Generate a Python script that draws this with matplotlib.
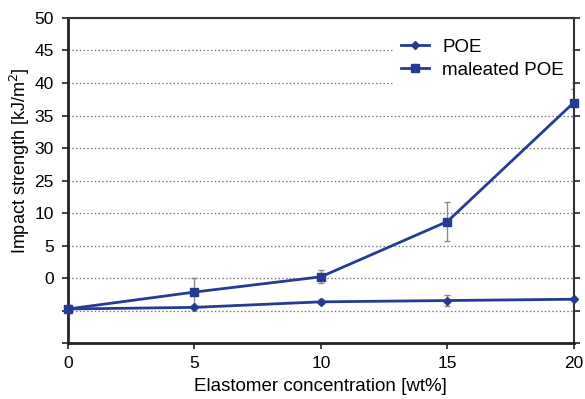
import numpy as np
import matplotlib.pyplot as plt

plt.rcParams['font.family'] = ['Liberation Sans', 'DejaVu Sans']

# Elastomer content [wt%]
conc = [0, 5, 10, 15, 20]

# Impact strength, linear axis units (5 per tick, axis starts at -10)
poe = [-4.75, -4.5, -3.65, -3.45, -3.25]
poe_err = [0.6, 0.3, 0.4, 0.8, 0.3]
mal_poe = [-4.75, -2.15, 0.2, 8.7, 27.0]
mal_err = [0.6, 2.1, 1.0, 3.0, 2.1]

# Tick positions and the labels printed next to them
ytick_pos = [-10, -5, 0, 5, 10, 15, 20, 25, 30, 35, 40]
ytick_lab = ['', '', '0', '5', '10', '25', '30', '35', '40', '45', '50']

blue = '#263b93'
grey = '#8a8a8a'

fig = plt.figure(figsize=(5.85, 3.99), dpi=100)
ax = fig.add_axes([0.116, 0.140, 0.865, 0.815])

ax.errorbar(conc, poe, yerr=poe_err, fmt='none', ecolor=grey, elinewidth=1,
            capsize=2.5, capthick=1, zorder=2)
ax.errorbar(conc, mal_poe, yerr=mal_err, fmt='none', ecolor=grey, elinewidth=1,
            capsize=2.5, capthick=1, zorder=2)
ax.plot(conc, poe, color=blue, lw=2, marker='D', ms=4.2, label='POE', zorder=3,
        clip_on=False)
ax.plot(conc, mal_poe, color=blue, lw=2, marker='s', ms=5.2, label='maleated POE',
        zorder=3, clip_on=False)

ax.set_xlim(0, 20)
ax.set_ylim(-10, 40)
ax.set_xticks([0, 5, 10, 15, 20])
ax.set_yticks(ytick_pos)
ax.set_yticklabels(ytick_lab)
ax.tick_params(labelsize=12.5, length=4, width=1.2, color='#222222')
ax.tick_params(axis='x', pad=5)
ax.tick_params(axis='y', pad=6)
ax.tick_params(axis='y', which='major', right=True)

ax.grid(axis='y', linestyle=(0, (1.2, 1.8)), color='#777777', lw=0.9)
ax.set_axisbelow(True)

for side in ['left', 'bottom']:
    ax.spines[side].set_linewidth(2)
    ax.spines[side].set_color('#222222')
for side in ['top', 'right']:
    ax.spines[side].set_linewidth(1.5)
    ax.spines[side].set_color('#333333')

ax.set_xlabel('Elastomer concentration [wt%]', fontsize=13.5, labelpad=5)
ax.set_ylabel('Impact strength [kJ/m$^2$]', fontsize=13)
ax.yaxis.set_label_coords(-0.07, 0.56)

leg = ax.legend(loc='upper right', bbox_to_anchor=(1.01, 0.982), frameon=True,
                fontsize=13.5, handlelength=1.5, borderaxespad=0.4,
                labelspacing=0.3, handletextpad=0.7)
leg.get_frame().set_edgecolor('white')
leg.get_frame().set_facecolor('white')
leg.get_frame().set_alpha(1)

fig.savefig('out.png', dpi=100)
